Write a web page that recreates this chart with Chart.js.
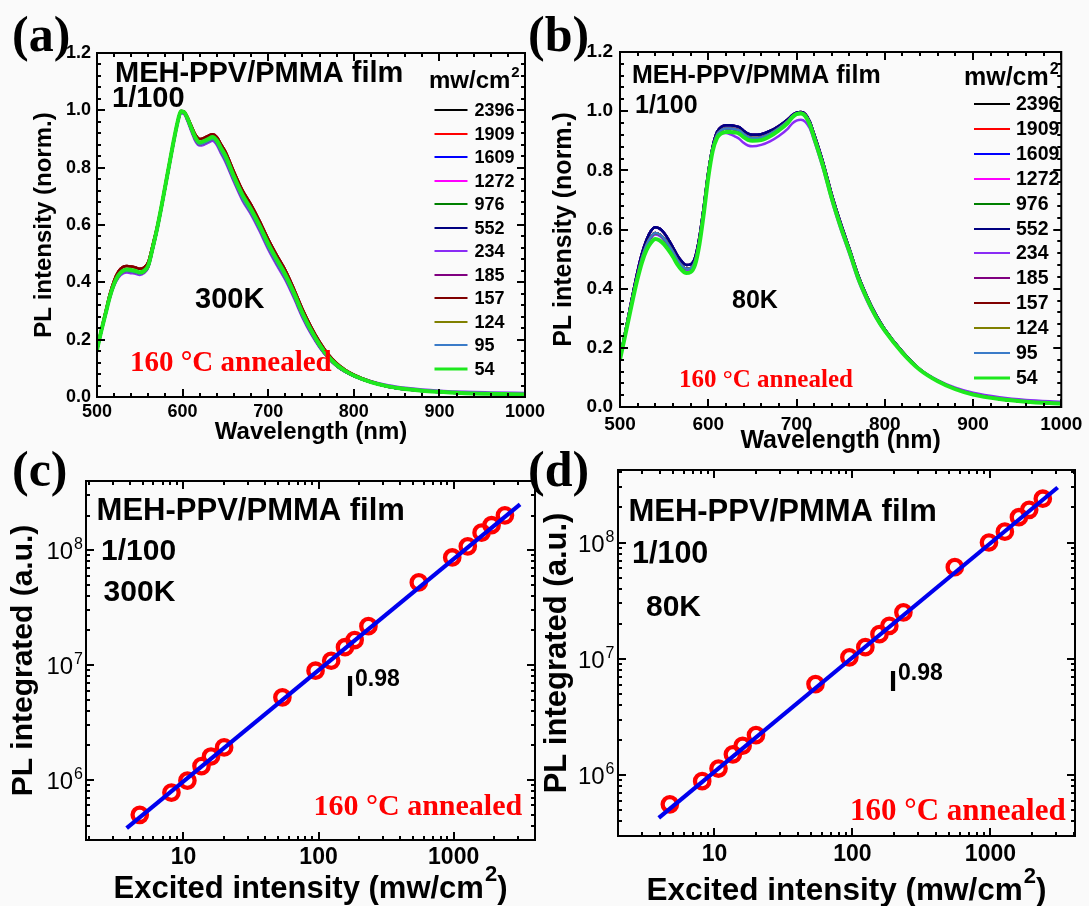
<!DOCTYPE html>
<html>
<head>
<meta charset="utf-8">
<title>MEH-PPV/PMMA film PL</title>
<script src="https://cdn.jsdelivr.net/npm/chart.js@4.4.1/dist/chart.umd.min.js"></script>
<style>
  html, body { margin: 0; padding: 0; background: #fafafa; }
  #wrap { position: relative; width: 1089px; height: 906px; overflow: hidden; }
  #wrap canvas { position: absolute; left: 0; top: 0; }
</style>
</head>
<body>
<div id="wrap">
  <canvas id="panelA" width="1089" height="906"></canvas>
  <canvas id="panelB" width="1089" height="906"></canvas>
  <canvas id="panelC" width="1089" height="906"></canvas>
  <canvas id="panelD" width="1089" height="906"></canvas>
</div>
<script>
// Excitation power densities (mw/cm2) and their trace colours
const powerLabels = ['2396', '1909', '1609', '1272', '976', '552', '234', '185', '157', '124', '95', '54'];
const powerColors = ['#000000', '#ff0000', '#0000ff', '#ff00ff', '#008000', '#000080',
                     '#8a2cf5', '#800080', '#800000', '#808000', '#3a7bc8', '#1ee81e'];

// 300K spectra (normalized)
const wlA = [500, 505, 510, 515, 520, 525, 530, 535, 540, 545,
             550, 555, 560, 565, 570, 575, 580, 585, 590, 595,
             598, 602, 606, 610, 615, 620, 625, 630, 635, 640,
             645, 650, 660, 670, 680, 690, 700, 710, 720, 730,
             740, 750, 760, 770, 780, 790, 800, 820, 840, 860,
             880, 900, 930, 960, 1000];
const plA_hi = [0.168, 0.236, 0.298, 0.36, 0.407, 0.438, 0.453, 0.457, 0.455, 0.452,
                0.447, 0.452, 0.472, 0.53, 0.592, 0.665, 0.745, 0.825, 0.903, 0.972,
                0.998, 0.995, 0.975, 0.948, 0.915, 0.9, 0.904, 0.911, 0.917, 0.907,
                0.881, 0.856, 0.786, 0.721, 0.671, 0.614, 0.551, 0.495, 0.443, 0.378,
                0.307, 0.246, 0.193, 0.15, 0.118, 0.095, 0.078, 0.054, 0.038, 0.029,
                0.022, 0.018, 0.013, 0.011, 0.009];
const plA_mid = [0.162, 0.228, 0.288, 0.347, 0.392, 0.42, 0.435, 0.44, 0.438, 0.435,
                 0.43, 0.436, 0.456, 0.515, 0.58, 0.655, 0.735, 0.816, 0.896, 0.967,
                 0.994, 0.99, 0.965, 0.934, 0.898, 0.882, 0.886, 0.893, 0.9, 0.886,
                 0.856, 0.828, 0.757, 0.692, 0.643, 0.586, 0.523, 0.468, 0.415, 0.352,
                 0.283, 0.225, 0.176, 0.137, 0.108, 0.088, 0.073, 0.051, 0.036, 0.027,
                 0.021, 0.017, 0.013, 0.011, 0.009];
const plA_violet = [0.16, 0.226, 0.285, 0.344, 0.388, 0.416, 0.43, 0.434, 0.432, 0.43,
                    0.426, 0.432, 0.452, 0.512, 0.577, 0.652, 0.732, 0.812, 0.892, 0.963,
                    0.99, 0.986, 0.96, 0.928, 0.892, 0.877, 0.88, 0.887, 0.894, 0.879,
                    0.849, 0.82, 0.75, 0.685, 0.636, 0.578, 0.515, 0.46, 0.408, 0.345,
                    0.277, 0.22, 0.173, 0.136, 0.108, 0.09, 0.076, 0.055, 0.041, 0.032,
                    0.026, 0.022, 0.018, 0.016, 0.014];
const plA_lime = [0.164, 0.23, 0.29, 0.35, 0.395, 0.425, 0.44, 0.445, 0.443, 0.44,
                  0.435, 0.44, 0.46, 0.52, 0.585, 0.66, 0.74, 0.82, 0.9, 0.97,
                  0.997, 0.993, 0.97, 0.94, 0.905, 0.888, 0.893, 0.9, 0.907, 0.895,
                  0.868, 0.842, 0.77, 0.705, 0.655, 0.598, 0.535, 0.48, 0.428, 0.364,
                  0.294, 0.234, 0.183, 0.142, 0.112, 0.091, 0.075, 0.052, 0.037, 0.028,
                  0.022, 0.018, 0.013, 0.011, 0.009];
// one trace per power, same order as powerLabels
const seriesA = [plA_hi, plA_hi, plA_mid, plA_mid, plA_mid, plA_mid,
                 plA_violet, plA_mid, plA_hi, plA_mid, plA_mid, plA_lime];

// 80K spectra (normalized)
const wlB = [500, 505, 510, 515, 520, 525, 530, 535, 540, 545,
             550, 555, 560, 565, 570, 575, 580, 585, 590, 595,
             600, 605, 610, 615, 620, 625, 630, 635, 640, 645,
             650, 660, 670, 680, 690, 695, 700, 705, 710, 715,
             720, 730, 740, 750, 760, 770, 780, 790, 800, 820,
             840, 860, 880, 900, 930, 960, 1000];
const plB_hi = [0.165, 0.24, 0.315, 0.39, 0.46, 0.52, 0.565, 0.595, 0.608, 0.603,
                0.588, 0.566, 0.54, 0.512, 0.492, 0.48, 0.482, 0.505, 0.575, 0.68,
                0.795, 0.88, 0.93, 0.947, 0.952, 0.952, 0.95, 0.946, 0.934, 0.924,
                0.92, 0.922, 0.933, 0.95, 0.972, 0.986, 0.995, 0.997, 0.99, 0.965,
                0.922, 0.828, 0.718, 0.622, 0.535, 0.445, 0.373, 0.312, 0.263, 0.187,
                0.127, 0.088, 0.061, 0.043, 0.027, 0.018, 0.011];
const plB_mid = [0.162, 0.235, 0.308, 0.38, 0.447, 0.505, 0.548, 0.575, 0.588, 0.583,
                 0.569, 0.548, 0.524, 0.497, 0.478, 0.467, 0.469, 0.493, 0.563, 0.668,
                 0.785, 0.872, 0.92, 0.936, 0.941, 0.941, 0.939, 0.935, 0.923, 0.913,
                 0.909, 0.911, 0.923, 0.942, 0.966, 0.982, 0.992, 0.995, 0.987, 0.96,
                 0.916, 0.822, 0.712, 0.616, 0.53, 0.44, 0.369, 0.308, 0.26, 0.185,
                 0.126, 0.088, 0.061, 0.043, 0.027, 0.018, 0.011];
const plB_violet = [0.16, 0.232, 0.304, 0.375, 0.442, 0.5, 0.543, 0.57, 0.583, 0.578,
                    0.564, 0.543, 0.519, 0.492, 0.473, 0.462, 0.464, 0.488, 0.558, 0.663,
                    0.78, 0.866, 0.912, 0.925, 0.926, 0.922, 0.915, 0.907, 0.893, 0.884,
                    0.881, 0.886, 0.898, 0.916, 0.94, 0.958, 0.968, 0.971, 0.964, 0.942,
                    0.9, 0.806, 0.697, 0.601, 0.516, 0.427, 0.358, 0.301, 0.255, 0.184,
                    0.128, 0.091, 0.065, 0.048, 0.033, 0.024, 0.018];
const plB_lime = [0.16, 0.23, 0.3, 0.37, 0.435, 0.49, 0.53, 0.555, 0.568, 0.563,
                  0.55, 0.53, 0.508, 0.482, 0.463, 0.453, 0.456, 0.48, 0.55, 0.655,
                  0.775, 0.865, 0.91, 0.925, 0.93, 0.93, 0.928, 0.924, 0.912, 0.903,
                  0.9, 0.902, 0.915, 0.935, 0.96, 0.978, 0.99, 0.992, 0.983, 0.955,
                  0.91, 0.815, 0.705, 0.61, 0.525, 0.435, 0.365, 0.305, 0.258, 0.183,
                  0.125, 0.087, 0.06, 0.042, 0.027, 0.018, 0.011];
const seriesB = [plB_hi, plB_hi, plB_hi, plB_mid, plB_mid, plB_hi,
                 plB_violet, plB_mid, plB_mid, plB_mid, plB_mid, plB_lime];

// Integrated PL vs excitation intensity
const excPower = [4.75, 8.15, 10.7, 13.6, 16.0, 20.0, 54, 95, 124, 157, 185, 234, 552, 976, 1272, 1609, 1909, 2396];
const plInt300 = [4.97e5, 7.76e5, 9.87e5, 1.32e6, 1.60e6, 1.92e6, 5.24e6, 8.93e6, 1.09e7,
                  1.43e7, 1.65e7, 2.18e7, 5.24e7, 8.64e7, 1.08e8, 1.42e8, 1.65e8, 2.01e8];
const plInt80 = [5.62e5, 8.88e5, 1.14e6, 1.51e6, 1.79e6, 2.21e6, 6.07e6, 1.03e7, 1.26e7,
                 1.63e7, 1.92e7, 2.51e7, 6.14e7, 1.0e8, 1.24e8, 1.65e8, 1.91e8, 2.38e8];
// I^0.98 fit lines (end points)
const fit300X = [3.8, 3100];
const fit300Y = [3.8e5, 2.5e8];
const fit80X = [3.95, 3070];
const fit80Y = [4.3e5, 2.97e8];

// Tick values and labels
const specXTicks = [500, 600, 700, 800, 900, 1000];
const specXLabels = ['500', '600', '700', '800', '900', '1000'];
const specYTicks = [0, 0.2, 0.4, 0.6, 0.8, 1.0, 1.2];
const specYLabels = ['0.0', '0.2', '0.4', '0.6', '0.8', '1.0', '1.2'];
const powXTicks = [10, 100, 1000];
const powXLabels = ['10', '100', '1000'];
const powYTicks = [1e6, 1e7, 1e8];
const powYExps = ['6', '7', '8'];

const SANS = '"Liberation Sans", Arial, sans-serif';
const SERIF = '"Liberation Serif", "Times New Roman", serif';
const RED = '#ff0000';
Chart.defaults.font.family = SANS;
Chart.defaults.color = '#000';

function pairs(xs, ys) {
    return xs.map((x, i) => ({ x: x, y: ys[i] }));
}

// minor tick positions: fixed step on linear axes, 2..9 per decade on log axes
function minorValues(scale, step) {
    const out = [];
    if (scale.type === 'logarithmic') {
        const d0 = Math.floor(Math.log10(scale.min));
        const d1 = Math.ceil(Math.log10(scale.max));
        for (let d = d0; d <= d1; d++) {
            for (let k = 2; k <= 9; k++) {
                const v = k * Math.pow(10, d);
                if (v > scale.min && v < scale.max) out.push(v);
            }
        }
    } else {
        const n = Math.round((scale.max - scale.min) / step);
        for (let i = 1; i < n; i++) out.push(scale.min + i * step);
    }
    return out;
}

// closed frame with inward ticks on all four sides
const framePlugin = {
    id: 'frame',
    afterDatasetsDraw(chart, args, o) {
        const { ctx, chartArea: a } = chart;
        const sx = chart.scales.x, sy = chart.scales.y;
        ctx.save();
        ctx.strokeStyle = '#000';
        ctx.lineWidth = 2;
        ctx.beginPath();
        const mark = (scale, values, len) => {
            values.forEach(v => {
                const p = Math.round(scale.getPixelForValue(v));
                if (scale.isHorizontal()) {
                    ctx.moveTo(p, a.bottom); ctx.lineTo(p, a.bottom - len);
                    ctx.moveTo(p, a.top); ctx.lineTo(p, a.top + len);
                } else {
                    ctx.moveTo(a.left, p); ctx.lineTo(a.left + len, p);
                    ctx.moveTo(a.right, p); ctx.lineTo(a.right - len, p);
                }
            });
        };
        mark(sx, minorValues(sx, o.xStep), 4);
        mark(sy, minorValues(sy, o.yStep), 4);
        mark(sx, sx.ticks.map(t => t.value), 8);
        mark(sy, sy.ticks.map(t => t.value), 8);
        ctx.stroke();
        ctx.strokeRect(a.left, a.top, a.right - a.left, a.bottom - a.top);

        // power-of-ten labels on log y axes: "10" with a raised exponent
        if (o.exps) {
            ctx.fillStyle = '#000';
            ctx.textAlign = 'left';
            ctx.textBaseline = 'alphabetic';
            sy.ticks.forEach((t, i) => {
                const p = sy.getPixelForValue(t.value);
                ctx.font = o.expSize + 'px ' + SANS;
                const wBase = ctx.measureText('10').width;
                ctx.font = o.expSupSize + 'px ' + SANS;
                const wExp = ctx.measureText(o.exps[i]).width;
                const x0 = a.left - o.expPad - wExp - wBase - 1;
                ctx.font = o.expSize + 'px ' + SANS;
                ctx.fillText('10', x0, p + o.expDrop);
                ctx.font = o.expSupSize + 'px ' + SANS;
                ctx.fillText(o.exps[i], x0 + wBase + 1, p + o.expDrop - o.expRise);
            });
        }
        ctx.restore();
    }
};

// free text, offsets from the plot's top-left corner; optional raised part and tail
const notesPlugin = {
    id: 'notes',
    afterDraw(chart, args, o) {
        const { ctx, chartArea: a } = chart;
        ctx.save();
        ctx.textAlign = 'left';
        ctx.textBaseline = 'alphabetic';
        (o.items || []).forEach(t => {
            const fam = t.serif ? SERIF : SANS;
            const mainFont = 'bold ' + t.size + 'px ' + fam;
            const supFont = 'bold ' + (t.supSize || t.size) + 'px ' + fam;
            const gap = t.supGap || 0;
            ctx.font = mainFont;
            const w1 = ctx.measureText(t.text).width;
            const w3 = t.after ? ctx.measureText(t.after).width : 0;
            ctx.font = supFont;
            const w2 = t.sup ? ctx.measureText(t.sup).width + gap : 0;
            let x = a.left + t.dx;
            if (t.center) x = (a.left + a.right) / 2 - (w1 + w2 + w3) / 2;
            const y = a.top + t.dy;
            ctx.fillStyle = t.color || '#000';
            ctx.font = mainFont;
            ctx.fillText(t.text, x, y);
            if (t.sup) {
                ctx.font = supFont;
                ctx.fillText(t.sup, x + w1 + gap, y - t.supRise);
            }
            if (t.after) {
                ctx.font = mainFont;
                ctx.fillText(t.after, x + w1 + w2, y);
            }
        });
        ctx.restore();
    }
};

// power legend: short line sample followed by the value
const powerLegendPlugin = {
    id: 'powerLegend',
    afterDraw(chart, args, o) {
        if (!o || !o.show) return;
        const { ctx, chartArea: a } = chart;
        ctx.save();
        ctx.font = 'bold ' + o.size + 'px ' + SANS;
        ctx.textAlign = 'left';
        ctx.textBaseline = 'middle';
        chart.data.datasets.forEach((ds, i) => {
            const x = a.left + o.dx;
            const y = Math.round(a.top + o.dy + i * o.step);
            ctx.strokeStyle = ds.borderColor;
            ctx.lineWidth = ds.borderWidth > 3 ? 3 : 2;
            ctx.beginPath();
            ctx.moveTo(x, y);
            ctx.lineTo(x + o.len, y);
            ctx.stroke();
            ctx.fillStyle = '#000';
            ctx.fillText(ds.label, x + o.len + o.gap, y + 1);
        });
        ctx.restore();
    }
};

function makeAxis(o) {
    return {
        type: o.type,
        min: o.min,
        max: o.max,
        grid: { display: false, drawTicks: false },
        border: { display: false },
        ticks: {
            display: o.labels !== null,
            autoSkip: false,
            maxRotation: 0,
            minRotation: 0,
            padding: o.tickPad || 0,
            font: { size: o.tickSize || 12, weight: 'bold' },
            callback: (v, i) => (o.labels ? o.labels[i] : '')
        },
        title: {
            display: !!o.title,
            text: o.title || '',
            font: { size: o.titleSize || 12, weight: 'bold' },
            padding: o.titlePad || 0
        },
        afterBuildTicks: s => { s.ticks = o.ticks.map(v => ({ value: v })); },
        afterFit: s => {
            if (s.isHorizontal()) s.height = o.size;
            else s.width = o.size;
        }
    };
}

function baseOptions(o) {
    return {
        responsive: false,
        animation: false,
        devicePixelRatio: 1,
        events: [],
        layout: { padding: o.pad, autoPadding: false },
        scales: { x: makeAxis(o.x), y: makeAxis(o.y) },
        plugins: {
            legend: { display: false },
            tooltip: { enabled: false },
            frame: o.frame,
            notes: { items: o.notes },
            powerLegend: o.legend || { show: false }
        }
    };
}

function spectrumChart(canvasId, wl, series, o) {
    const last = series.length - 1;
    const datasets = series.map((vals, i) => ({
        label: powerLabels[i],
        data: pairs(wl, vals),
        borderColor: powerColors[i],
        borderWidth: i === last ? 4 : 2.5,
        pointRadius: 0,
        fill: false,
        cubicInterpolationMode: 'monotone',
        order: last - i   // 54 mw/cm2 ends up on top
    }));
    return new Chart(document.getElementById(canvasId), {
        type: 'line',
        data: { datasets: datasets },
        options: baseOptions(o),
        plugins: [framePlugin, notesPlugin, powerLegendPlugin]
    });
}

function powerChart(canvasId, xs, ys, fx, fy, o) {
    return new Chart(document.getElementById(canvasId), {
        type: 'scatter',
        data: {
            datasets: [
                {
                    label: 'fit',
                    data: pairs(fx, fy),
                    showLine: true,
                    borderColor: '#0000ee',
                    borderWidth: 4.2,
                    pointRadius: 0,
                    order: 0
                },
                {
                    label: 'PL',
                    data: pairs(xs, ys),
                    showLine: false,
                    pointStyle: 'circle',
                    pointRadius: 7.2,
                    pointBorderWidth: 4.3,
                    borderColor: RED,
                    backgroundColor: 'rgba(0,0,0,0)',
                    order: 1
                }
            ]
        },
        options: baseOptions(o),
        plugins: [framePlugin, notesPlugin]
    });
}

// (a) 300K spectra
spectrumChart('panelA', wlA, seriesA, {
    pad: { left: 0, top: 53, right: 564, bottom: 459 },
    x: { type: 'linear', min: 500, max: 1000, ticks: specXTicks, labels: specXLabels,
         tickSize: 18, tickPad: 4, title: 'Wavelength (nm)', titleSize: 24,
         titlePad: { top: 0, bottom: 0 }, size: 50 },
    y: { type: 'linear', min: 0, max: 1.2, ticks: specYTicks, labels: specYLabels,
         tickSize: 18, tickPad: 6, title: 'PL intensity (norm.)', titleSize: 24,
         titlePad: { top: 30, bottom: 0 }, size: 97 },
    frame: { xStep: 20, yStep: 0.04 },
    legend: { show: true, dx: 337.5, dy: 57, len: 33, gap: 7, step: 23.5, size: 18 },
    notes: [
        { text: 'MEH-PPV/PMMA film', dx: 18, dy: 29, size: 29 },
        { text: '1/100', dx: 15, dy: 54, size: 29 },
        { text: '300K', dx: 98, dy: 255, size: 29 },
        { text: '160 \u00b0C annealed', dx: 33, dy: 318, size: 29, serif: true, color: RED },
        { text: 'mw/cm', sup: '2', dx: 332, dy: 35, size: 24, supSize: 15, supRise: 11, supGap: 1 },
        { text: '(a)', dx: -85, dy: -2, size: 50, serif: true }
    ]
});

// (b) 80K spectra
spectrumChart('panelB', wlB, seriesB, {
    pad: { left: 545, top: 52, right: 22, bottom: 449 },
    x: { type: 'linear', min: 500, max: 1000, ticks: specXTicks, labels: specXLabels,
         tickSize: 19, tickPad: 6.6, title: 'Wavelength (nm)', titleSize: 25,
         titlePad: { top: 0, bottom: 1 }, size: 50 },
    y: { type: 'linear', min: 0, max: 1.2, ticks: specYTicks, labels: specYLabels,
         tickSize: 19, tickPad: 7, title: 'PL intensity (norm.)', titleSize: 25,
         titlePad: { top: 4, bottom: 0 }, size: 75 },
    frame: { xStep: 20, yStep: 0.04 },
    legend: { show: true, dx: 354, dy: 52, len: 36, gap: 6, step: 24.9, size: 19.5 },
    notes: [
        { text: 'MEH-PPV/PMMA film', dx: 12, dy: 31, size: 25 },
        { text: '1/100', dx: 15, dy: 61, size: 25 },
        { text: '80K', dx: 112, dy: 256, size: 25 },
        { text: '160 \u00b0C annealed', dx: 59, dy: 335, size: 25, serif: true, color: RED },
        { text: 'mw/cm', sup: '2', dx: 344, dy: 33, size: 25, supSize: 16, supRise: 11, supGap: 1 },
        { text: '(b)', dx: -92, dy: -1, size: 50, serif: true }
    ]
});

// (c) 300K integrated PL
powerChart('panelC', excPower, plInt300, fit300X, fit300Y, {
    pad: { left: 0, top: 481, right: 554, bottom: 0 },
    x: { type: 'logarithmic', min: 1.9, max: 4000, ticks: powXTicks, labels: powXLabels,
         tickSize: 23, tickPad: 4.2, size: 66 },
    y: { type: 'logarithmic', min: 3e5, max: 4e8, ticks: powYTicks, labels: null,
         title: 'PL integrated (a.u.)', titleSize: 30,
         titlePad: { top: 5.5, bottom: 0 }, size: 86 },
    frame: { exps: powYExps, expSize: 24, expSupSize: 16, expRise: 10, expDrop: 9, expPad: 3 },
    notes: [
        { text: 'MEH-PPV/PMMA film', dx: 10.6, dy: 38.7, size: 31 },
        { text: '1/100', dx: 15, dy: 79, size: 30 },
        { text: '300K', dx: 17.6, dy: 120, size: 30 },
        { text: 'I', sup: '0.98', dx: 260, dy: 215, size: 29, supSize: 23, supRise: 10, supGap: 1 },
        { text: '160 \u00b0C annealed', dx: 227.5, dy: 334, size: 30, serif: true, color: RED },
        { text: 'Excited intensity (mw/cm', sup: '2', after: ')', center: true,
          dy: 417, size: 31, supSize: 22, supRise: 17, supGap: 1 },
        { text: '(c)', dx: -74, dy: 5, size: 50, serif: true }
    ]
});

// (d) 80K integrated PL
powerChart('panelD', excPower, plInt80, fit80X, fit80Y, {
    pad: { left: 535, top: 470, right: 14, bottom: 0 },
    x: { type: 'logarithmic', min: 2, max: 4100, ticks: powXTicks, labels: powXLabels,
         tickSize: 23, tickPad: 5.2, size: 70 },
    y: { type: 'logarithmic', min: 3e5, max: 4.2e8, ticks: powYTicks, labels: null,
         title: 'PL integrated (a.u.)', titleSize: 31,
         titlePad: { top: 3.4, bottom: 0 }, size: 83 },
    frame: { exps: powYExps, expSize: 24, expSupSize: 16, expRise: 10, expDrop: 9, expPad: 3.5 },
    notes: [
        { text: 'MEH-PPV/PMMA film', dx: 10.4, dy: 51, size: 31 },
        { text: '1/100', dx: 14, dy: 93, size: 30.5 },
        { text: '80K', dx: 28, dy: 146, size: 30 },
        { text: 'I', sup: '0.98', dx: 271, dy: 221, size: 29, supSize: 23, supRise: 11, supGap: 1 },
        { text: '160 \u00b0C annealed', dx: 232, dy: 350, size: 31, serif: true, color: RED },
        { text: 'Excited intensity (mw/cm', sup: '2', after: ')', center: true,
          dy: 430, size: 31.5, supSize: 22, supRise: 17, supGap: 1 },
        { text: '(d)', dx: -90, dy: 16, size: 50, serif: true }
    ]
});
</script>
</body>
</html>
